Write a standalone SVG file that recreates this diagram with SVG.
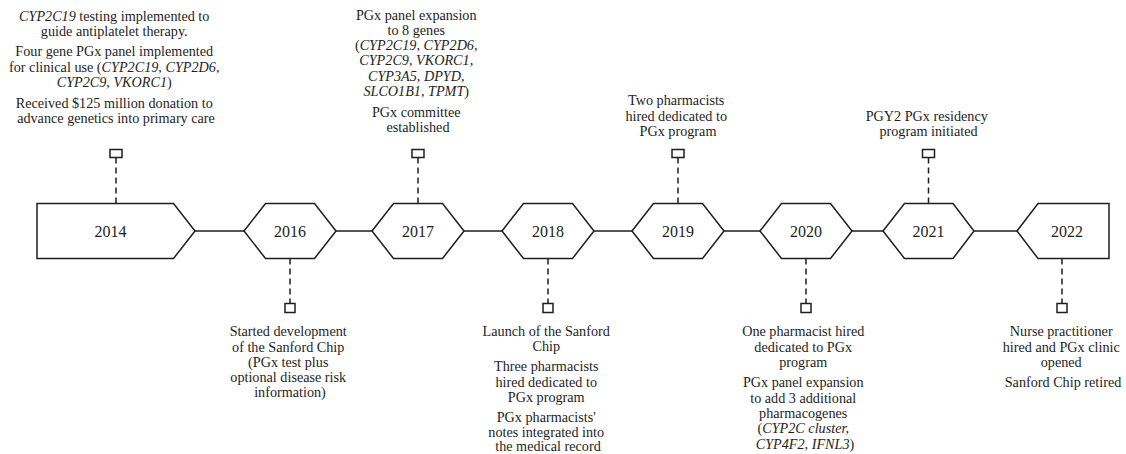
<svg xmlns="http://www.w3.org/2000/svg" width="1126" height="454" viewBox="0 0 1126 454">
<style>
  .shape{fill:#fff;stroke:#1e1e1e;stroke-width:1.5;stroke-linejoin:miter}
  .yr{font-family:"Liberation Serif","Times New Roman",serif;font-size:16px;fill:#1e1e1e;text-anchor:middle}
  .t{font-family:"Liberation Serif","Times New Roman",serif;font-size:14.2px;fill:#1e1e1e;text-anchor:middle}
  .i{font-style:italic}
  .conn{stroke:#1e1e1e;stroke-width:1.5;fill:none}
  .dash{stroke:#1e1e1e;stroke-width:1.5;fill:none;stroke-dasharray:6 4}
  .mk{fill:#fff;stroke:#1e1e1e;stroke-width:1.5}
</style>
<rect width="1126" height="454" fill="#fff"/>
<g id="connectors">
  <line class="conn" x1="195" y1="231" x2="244" y2="231"/>
  <line class="conn" x1="336" y1="231" x2="372" y2="231"/>
  <line class="conn" x1="464" y1="231" x2="502" y2="231"/>
  <line class="conn" x1="594" y1="231" x2="632" y2="231"/>
  <line class="conn" x1="724" y1="231" x2="760" y2="231"/>
  <line class="conn" x1="852" y1="231" x2="883" y2="231"/>
  <line class="conn" x1="974" y1="231" x2="1017" y2="231"/>
  <line class="dash" x1="116" y1="203.5" x2="116" y2="157.5"/>
  <line class="dash" x1="418" y1="203.5" x2="418" y2="157.5"/>
  <line class="dash" x1="678" y1="203.5" x2="678" y2="157.5"/>
  <line class="dash" x1="928.5" y1="203.5" x2="928.5" y2="157.5"/>
  <line class="dash" x1="290" y1="258.5" x2="290" y2="303.5"/>
  <line class="dash" x1="548" y1="258.5" x2="548" y2="303.5"/>
  <line class="dash" x1="806" y1="258.5" x2="806" y2="303.5"/>
  <line class="dash" x1="1062" y1="258.5" x2="1062" y2="303.5"/>
  <rect class="mk" x="110" y="149.5" width="12" height="8"/>
  <rect class="mk" x="412" y="149.5" width="12" height="8"/>
  <rect class="mk" x="672" y="149.5" width="12" height="8"/>
  <rect class="mk" x="922.5" y="149.5" width="12" height="8"/>
  <rect class="mk" x="285" y="303.5" width="10" height="9"/>
  <rect class="mk" x="543" y="303.5" width="10" height="9"/>
  <rect class="mk" x="801" y="303.5" width="10" height="9"/>
  <rect class="mk" x="1057" y="303.5" width="10" height="9"/>
</g>
<g id="n2014">
  <polygon class="shape" points="37,203.5 173.5,203.5 195,231 173.5,258.5 37,258.5"/>
  <text class="yr" x="110.5" y="236.5">2014</text>
  <text class="t">
    <tspan x="116" y="20.5"><tspan class="i">CYP2C19</tspan> testing implemented to</tspan>
    <tspan x="116" y="35.8">guide antiplatelet therapy.</tspan>
    <tspan x="116" y="56.4">Four gene PGx panel implemented</tspan>
    <tspan x="116" y="71.7">for clinical use (<tspan class="i">CYP2C19, CYP2D6,</tspan></tspan>
    <tspan x="116" y="87"><tspan class="i">CYP2C9, VKORC1</tspan>)</tspan>
    <tspan x="116" y="107.6">Received $125 million donation to</tspan>
    <tspan x="116" y="122.9">advance genetics into primary care</tspan>
  </text>
</g>
<g id="n2016">
  <polygon class="shape" points="244,231 265.5,203.5 314.5,203.5 336,231 314.5,258.5 265.5,258.5"/>
  <text class="yr" x="290" y="236.5">2016</text>
  <text class="t">
    <tspan x="290" y="336.2">Started development</tspan>
    <tspan x="290" y="351.5">of the Sanford Chip</tspan>
    <tspan x="290" y="366.8">(PGx test plus</tspan>
    <tspan x="290" y="382.1">optional disease risk</tspan>
    <tspan x="290" y="397.4">information)</tspan>
  </text>
</g>
<g id="n2017">
  <polygon class="shape" points="372,231 393.5,203.5 442.5,203.5 464,231 442.5,258.5 393.5,258.5"/>
  <text class="yr" x="418" y="236.5">2017</text>
  <text class="t">
    <tspan x="418" y="19.5">PGx panel expansion</tspan>
    <tspan x="418" y="34.8">to 8 genes</tspan>
    <tspan x="418" y="50.1">(<tspan class="i">CYP2C19, CYP2D6,</tspan></tspan>
    <tspan x="418" y="65.4" class="i">CYP2C9, VKORC1,</tspan>
    <tspan x="418" y="80.7" class="i">CYP3A5, DPYD,</tspan>
    <tspan x="418" y="96"><tspan class="i">SLCO1B1, TPMT</tspan>)</tspan>
    <tspan x="418" y="116.6">PGx committee</tspan>
    <tspan x="418" y="131.9">established</tspan>
  </text>
</g>
<g id="n2018">
  <polygon class="shape" points="502,231 523.5,203.5 572.5,203.5 594,231 572.5,258.5 523.5,258.5"/>
  <text class="yr" x="548" y="236.5">2018</text>
  <text class="t">
    <tspan x="548" y="336.2">Launch of the Sanford</tspan>
    <tspan x="548" y="351.3">Chip</tspan>
    <tspan x="548" y="371.4">Three pharmacists</tspan>
    <tspan x="548" y="386.5">hired dedicated to</tspan>
    <tspan x="548" y="401.6">PGx program</tspan>
    <tspan x="548" y="421.7">PGx pharmacists'</tspan>
    <tspan x="548" y="436.8">notes integrated into</tspan>
    <tspan x="548" y="451">the medical record</tspan>
  </text>
</g>
<g id="n2019">
  <polygon class="shape" points="632,231 653.5,203.5 702.5,203.5 724,231 702.5,258.5 653.5,258.5"/>
  <text class="yr" x="678" y="236.5">2019</text>
  <text class="t">
    <tspan x="678" y="105.2">Two pharmacists</tspan>
    <tspan x="678" y="120.5">hired dedicated to</tspan>
    <tspan x="678" y="135.8">PGx program</tspan>
  </text>
</g>
<g id="n2020">
  <polygon class="shape" points="760,231 781.5,203.5 830.5,203.5 852,231 830.5,258.5 781.5,258.5"/>
  <text class="yr" x="806" y="236.5">2020</text>
  <text class="t">
    <tspan x="805" y="336.2">One pharmacist hired</tspan>
    <tspan x="805" y="351.5">dedicated to PGx</tspan>
    <tspan x="805" y="366.8">program</tspan>
    <tspan x="805" y="387.4">PGx panel expansion</tspan>
    <tspan x="805" y="402.7">to add 3 additional</tspan>
    <tspan x="805" y="418">pharmacogenes</tspan>
    <tspan x="805" y="433.3">(<tspan class="i">CYP2C cluster,</tspan></tspan>
    <tspan x="805" y="448.6"><tspan class="i">CYP4F2, IFNL3</tspan>)</tspan>
  </text>
</g>
<g id="n2021">
  <polygon class="shape" points="883,231 904.5,203.5 953,203.5 974,231 953,258.5 904.5,258.5"/>
  <text class="yr" x="928.5" y="236.5">2021</text>
  <text class="t">
    <tspan x="928.5" y="120.5">PGY2 PGx residency</tspan>
    <tspan x="928.5" y="135.8">program initiated</tspan>
  </text>
</g>
<g id="n2022">
  <polygon class="shape" points="1017,231 1038,203.5 1109,203.5 1109,258.5 1038,258.5"/>
  <text class="yr" x="1067" y="236.5">2022</text>
  <text class="t">
    <tspan x="1063" y="336.2">Nurse practitioner</tspan>
    <tspan x="1063" y="351.5">hired and PGx clinic</tspan>
    <tspan x="1063" y="366.8">opened</tspan>
    <tspan x="1063" y="387.4">Sanford Chip retired</tspan>
  </text>
</g>
</svg>
